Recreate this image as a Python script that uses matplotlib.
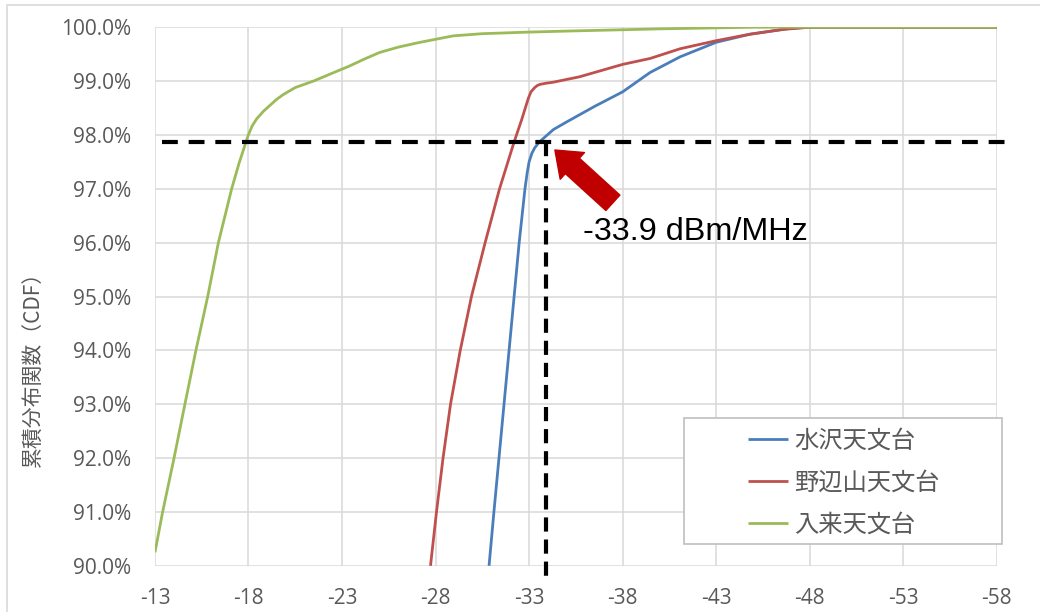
import numpy as np
import matplotlib.pyplot as plt
from matplotlib.patches import Rectangle
from matplotlib.ticker import FuncFormatter

plt.rcParams['font.family'] = ['Noto Sans CJK JP', 'DejaVu Sans']
plt.rcParams['axes.unicode_minus'] = False

# 水沢天文台
mizusawa_x = [-30.86, -31.12, -31.39, -31.66, -31.93, -32.2, -32.47, -32.78, -32.9, -33.0, -33.15,
              -33.3, -33.5, -33.68, -34.3, -35.0, -36.5, -38.0, -39.47, -41.07, -43.0, -44.8,
              -46.96, -48.0, -58.0]
mizusawa_y = [90.0, 91.0, 92.0, 93.0, 94.0, 95.0, 96.0, 97.0, 97.3, 97.5, 97.66,
              97.76, 97.85, 97.91, 98.1, 98.24, 98.53, 98.8, 99.16, 99.45, 99.72, 99.87,
              99.98, 100.0, 100.0]
# 野辺山天文台
nobeyama_x = [-27.73, -28.05, -28.4, -28.8, -29.32, -29.92, -30.65, -31.42, -32.2, -32.6, -32.96,
              -33.1, -33.3, -33.45, -33.6, -33.9, -34.3, -35.7, -38.0, -39.47, -41.07, -43.0,
              -44.8, -46.6, -48.0, -58.0]
nobeyama_y = [90.0, 91.0, 92.0, 93.0, 94.0, 95.0, 96.0, 97.0, 97.87, 98.28, 98.68,
              98.8, 98.88, 98.92, 98.94, 98.96, 98.98, 99.08, 99.31, 99.42, 99.6, 99.75,
              99.87, 99.96, 100.0, 100.0]
# 入来天文台
iriki_x = [-13.0, -13.41, -14.02, -14.6, -15.19, -15.82, -16.39, -17.1, -17.5, -17.99, -18.2,
           -18.44, -18.8, -19.15, -19.5, -19.86, -20.5, -21.47, -22.5, -23.4, -24.2, -25.0,
           -26.0, -27.17, -28.95, -30.5, -33.0, -35.2, -40.0, -45.0, -58.0]
iriki_y = [90.25, 91.0, 92.0, 93.0, 94.0, 95.0, 96.0, 97.0, 97.48, 98.0, 98.17,
           98.3, 98.44, 98.55, 98.66, 98.75, 98.88, 99.0, 99.15, 99.28, 99.41, 99.53,
           99.63, 99.72, 99.84, 99.88, 99.91, 99.93, 99.97, 100.0, 100.0]

labels = ['水沢天文台', '野辺山天文台', '入来天文台']
colors = ['#4A7EBB', '#C0504D', '#9BBB59']

x_ticks = np.arange(-13, -59, -5)
y_ticks = np.arange(90, 100.1, 1)
cut_x = -33.9
cut_y = 97.86

fig = plt.figure(figsize=(10.4, 6.12), dpi=100)
ax = fig.add_axes([0.149, 0.0755, 0.8094, 0.88])

fig.patches.append(Rectangle((7 / 1040, -0.1), 1.2, 1 - 5 / 612 + 0.1, transform=fig.transFigure,
                             facecolor='none', edgecolor='#d9d9d9', lw=1.2, zorder=0))

series = [(mizusawa_x, mizusawa_y), (nobeyama_x, nobeyama_y), (iriki_x, iriki_y)]
for (xs, ys), lab, c in zip(series, labels, colors):
    ax.plot(xs, ys, color=c, lw=2, label=lab, zorder=4, solid_capstyle='butt',
            solid_joinstyle='round')

ax.set_xlim(-13, -58)
ax.set_ylim(90, 100)
ax.set_xticks(x_ticks)
ax.set_yticks(y_ticks)
ax.yaxis.set_major_formatter(FuncFormatter(lambda v, p: '%.1f%%' % v))
ax.grid(True, color='#d9d9d9', lw=1.1)
ax.set_axisbelow(True)
for s in ax.spines.values():
    s.set_visible(False)
ax.tick_params(length=0, labelsize=15, labelcolor='#595959')
ax.tick_params(axis='y', pad=17)
ax.tick_params(axis='x', pad=16)
for lab in ax.get_xticklabels() + ax.get_yticklabels():
    lab.set_family('Open Sans')
ax.set_ylabel('累積分布関数（CDF）', fontsize=15, color='#595959')
ax.yaxis.set_label_coords(-0.132, 0.375)

# dashed guide lines
ax.plot([-13.35, -58.8], [cut_y, cut_y], color='black', lw=3, dashes=(3.8, 2.6),
        clip_on=False, zorder=6)
ax.plot([cut_x, cut_x], [cut_y, 89.74], color='black', lw=3, dashes=(3.4, 1.9),
        clip_on=False, zorder=6)

# arrow and label
ax.annotate('', xy=(-34.38, 97.72), xytext=(-37.48, 96.74),
            arrowprops=dict(arrowstyle='simple,head_length=1.7,head_width=2.6,tail_width=1.5',
                            color='#C00000', shrinkA=0, shrinkB=0, mutation_scale=10),
            zorder=7)
ax.text(-35.88, 96.05, '-33.9 dBm/MHz', fontsize=23.3, family='Liberation Sans',
        color='black', va='baseline', ha='left', zorder=7)

# legend box
ax.add_patch(Rectangle((0.6285, 0.0405), 0.3778, 0.234, transform=ax.transAxes,
                       facecolor='white', edgecolor='#bfbfbf', lw=1.2, zorder=8, clip_on=False))
leg = ax.legend(loc='upper left', bbox_to_anchor=(0.7045, 0.256), frameon=False,
                fontsize=17.5, handlelength=1.65, handletextpad=0.25, labelspacing=0.66,
                borderpad=0, borderaxespad=0)
leg.set_zorder(9)
for t in leg.get_texts():
    t.set_color('#595959')

plt.savefig('out.png', dpi=100)
